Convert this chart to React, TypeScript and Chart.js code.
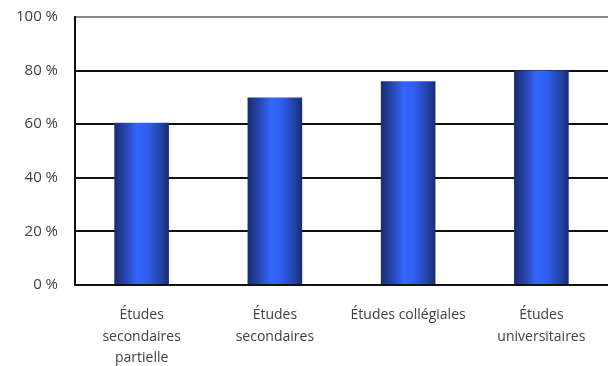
import React, { useEffect, useRef } from "react";
import { Chart, registerables } from "chart.js";

Chart.register(...registerables);

const categories: (string | string[])[] = [
  ["Études", "secondaires", "partielle"],
  ["Études", "secondaires"],
  "Études collégiales",
  ["Études", "universitaires"],
];
const values = [60.5, 70, 76, 80];
const yTicks = [0, 20, 40, 60, 80, 100];

const FONT = "'Open Sans', Lato, sans-serif";
const TEXT = "#404040";

export default function App() {
  const ref = useRef<HTMLCanvasElement | null>(null);

  useEffect(() => {
    if (!ref.current) return;
    const barPct = 0.41;
    const chart = new Chart(ref.current, {
      type: "bar",
      data: {
        labels: categories,
        datasets: [
          {
            data: values,
            barPercentage: barPct,
            categoryPercentage: 1,
            backgroundColor: (ctx: any) => {
              const c = ctx.chart;
              const area = c.chartArea;
              const xs = c.scales.x;
              if (!area || !xs || ctx.dataIndex === undefined) return "#2d55e0";
              const cx = xs.getPixelForValue(ctx.dataIndex);
              const w = ((area.right - area.left) / categories.length) * barPct;
              const g = c.ctx.createLinearGradient(cx - w / 2, 0, cx + w / 2, 0);
              g.addColorStop(0, "#1a2c6e");
              g.addColorStop(0.2, "#2544b0");
              g.addColorStop(0.42, "#3366ff");
              g.addColorStop(0.6, "#3060f0");
              g.addColorStop(0.85, "#2443a8");
              g.addColorStop(1, "#1a2c6e");
              return g;
            },
            borderWidth: 0,
          },
        ],
      },
      options: {
        animation: false,
        responsive: false,
        maintainAspectRatio: false,
        layout: { padding: { top: 17, right: 0, left: 0, bottom: 0 } },
        plugins: { legend: { display: false }, tooltip: { enabled: false } },
        scales: {
          x: {
            grid: { display: false, drawTicks: false },
            border: { display: false },
            ticks: {
              color: TEXT,
              font: { family: FONT, size: 14, lineHeight: 1.55 },
              padding: 19,
              maxRotation: 0,
              autoSkip: false,
            },
            afterFit: (s: any) => {
              s.height = 81;
              s.paddingLeft = 0;
              s.paddingRight = 0;
            },
          },
          y: {
            min: 0,
            max: 100,
            afterBuildTicks: (s: any) => {
              s.ticks = yTicks.map((v) => ({ value: v }));
            },
            grid: {
              color: (ctx: any) => (ctx.tick && ctx.tick.value === 100 ? "#8a8a8a" : "#111"),
              lineWidth: 2,
              drawTicks: false,
            },
            border: { display: true, color: "#111", width: 2 },
            ticks: {
              color: TEXT,
              font: { family: FONT, size: 15 },
              padding: 17,
              callback: (v: any) => `${v} %`,
            },
            afterFit: (s: any) => {
              s.width = 75;
              s.paddingTop = 0;
              s.paddingBottom = 0;
            },
          },
        },
      },
    });
    return () => chart.destroy();
  }, []);

  return (
    <div style={{ position: "fixed", left: 0, top: 0, width: 608, height: 366, background: "#fff" }}>
      <canvas ref={ref} width={608} height={366} style={{ width: 608, height: 366 }} />
    </div>
  );
}
